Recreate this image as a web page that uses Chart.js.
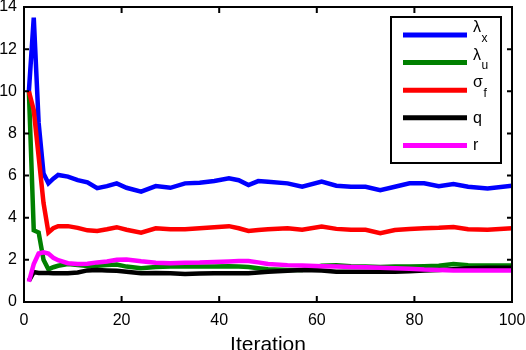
<!DOCTYPE html>
<html>
<head>
<meta charset="utf-8">
<script src="https://cdn.jsdelivr.net/npm/chart.js@4.4.1/dist/chart.umd.min.js"></script>
<style>
  html, body { margin: 0; padding: 0; background: #fff; }
  #wrap { width: 526px; height: 350px; }
</style>
</head>
<body>
<div id="wrap"><canvas id="chart" width="526" height="350"></canvas></div>
<script>
// iterations
const iterations = [1, 2, 3, 4, 5, 6, 7, 9, 11, 13, 15, 17, 19, 21, 24, 27, 30, 33, 36, 39,
  42, 44, 46, 48, 50, 54, 57, 61, 64, 67, 70, 73, 76, 79, 82, 85, 88, 91, 95, 100];

const lambdaX = [10.0, 13.5, 8.5, 6.1, 5.63, 5.85, 6.03, 5.95, 5.78, 5.68, 5.4, 5.5, 5.63, 5.42, 5.24, 5.5, 5.42, 5.63, 5.66, 5.74,
  5.87, 5.78, 5.55, 5.74, 5.71, 5.63, 5.47, 5.71, 5.52, 5.47, 5.47, 5.31, 5.47, 5.63, 5.63, 5.5, 5.6, 5.47, 5.39, 5.52];
const lambdaU = [10.0, 3.4, 3.3, 2.0, 1.55, 1.65, 1.72, 1.8, 1.76, 1.71, 1.72, 1.75, 1.78, 1.68, 1.6, 1.66, 1.68, 1.68, 1.68, 1.68,
  1.7, 1.68, 1.66, 1.6, 1.55, 1.52, 1.52, 1.72, 1.74, 1.7, 1.68, 1.66, 1.68, 1.68, 1.7, 1.72, 1.8, 1.75, 1.73, 1.73];
const sigmaF = [10.0, 9.1, 6.9, 4.7, 3.3, 3.5, 3.6, 3.6, 3.52, 3.4, 3.37, 3.45, 3.55, 3.43, 3.29, 3.5, 3.45, 3.45, 3.5, 3.55,
  3.6, 3.5, 3.37, 3.42, 3.45, 3.5, 3.43, 3.58, 3.47, 3.43, 3.43, 3.27, 3.42, 3.47, 3.5, 3.52, 3.56, 3.45, 3.43, 3.5];
const qVals = [1.0, 1.42, 1.38, 1.38, 1.38, 1.37, 1.36, 1.36, 1.4, 1.5, 1.52, 1.5, 1.48, 1.44, 1.36, 1.38, 1.36, 1.33, 1.35, 1.36,
  1.36, 1.36, 1.36, 1.4, 1.44, 1.48, 1.52, 1.5, 1.44, 1.44, 1.44, 1.44, 1.44, 1.46, 1.5, 1.52, 1.56, 1.6, 1.62, 1.63];
const rVals = [0.96, 1.8, 2.3, 2.36, 2.3, 2.1, 1.98, 1.84, 1.8, 1.82, 1.88, 1.92, 2.0, 2.02, 1.93, 1.86, 1.84, 1.86, 1.87, 1.9,
  1.92, 1.94, 1.95, 1.88, 1.8, 1.75, 1.73, 1.7, 1.68, 1.66, 1.65, 1.62, 1.6, 1.58, 1.54, 1.52, 1.5, 1.49, 1.49, 1.49];

const xTicks = [0, 20, 40, 60, 80, 100];
const yTicks = [0, 2, 4, 6, 8, 10, 12, 14];

const seriesValues = [lambdaX, lambdaU, sigmaF, qVals, rVals];
const seriesColors = ['#0000ff', '#008000', '#ff0000', '#000000', '#ff00ff'];
const legendSymbols = ['λ', 'λ', 'σ', 'q', 'r'];
const legendSubs = ['x', 'u', 'f', '', ''];

const FONT = '"Liberation Sans", Arial, Helvetica, sans-serif';

const toPoints = vals => vals.map((v, i) => ({ x: iterations[i], y: v }));

// frame + inward ticks on all four sides, matlab style
const boxAxes = {
  id: 'boxAxes',
  afterDatasetsDraw(chart) {
    const { ctx, chartArea: a, scales } = chart;
    ctx.save();
    ctx.strokeStyle = '#000';
    ctx.lineWidth = 2;
    ctx.strokeRect(a.left, a.top, a.right - a.left, a.bottom - a.top);
    ctx.beginPath();
    xTicks.forEach(t => {
      const px = scales.x.getPixelForValue(t);
      ctx.moveTo(px, a.bottom); ctx.lineTo(px, a.bottom - 6);
      ctx.moveTo(px, a.top); ctx.lineTo(px, a.top + 6);
    });
    yTicks.forEach(t => {
      const py = scales.y.getPixelForValue(t);
      ctx.moveTo(a.left, py); ctx.lineTo(a.left + 5, py);
      ctx.moveTo(a.right, py); ctx.lineTo(a.right - 5, py);
    });
    ctx.stroke();
    ctx.restore();
  }
};

// legend box with subscripts
const subLegend = {
  id: 'subLegend',
  afterDraw(chart) {
    const ctx = chart.ctx;
    const bx = 391, by = 17, bw = 110, bh = 146;
    ctx.save();
    ctx.fillStyle = '#fff';
    ctx.fillRect(bx, by, bw, bh);
    ctx.strokeStyle = '#000';
    ctx.lineWidth = 2;
    ctx.strokeRect(bx, by, bw, bh);
    chart.data.datasets.forEach((ds, i) => {
      const y = 35 + i * 27.6;
      ctx.strokeStyle = ds.borderColor;
      ctx.lineWidth = 5;
      ctx.beginPath();
      ctx.moveTo(403, y);
      ctx.lineTo(467, y);
      ctx.stroke();
      ctx.fillStyle = '#000';
      ctx.textAlign = 'left';
      ctx.textBaseline = 'alphabetic';
      ctx.font = '16px ' + FONT;
      const sym = legendSymbols[i];
      if (legendSubs[i]) {
        ctx.fillText(sym, 473, y - 3);
        const w = ctx.measureText(sym).width;
        ctx.font = '12px ' + FONT;
        ctx.fillText(legendSubs[i], 473 + w + 0.5, y + 6.5);
      } else {
        ctx.fillText(sym, 473, y + 5);
      }
    });
    ctx.restore();
  }
};

new Chart(document.getElementById('chart'), {
  type: 'line',
  data: {
    datasets: seriesValues.map((vals, i) => ({
      label: legendSymbols[i] + legendSubs[i],
      data: toPoints(vals),
      borderColor: seriesColors[i],
      backgroundColor: seriesColors[i],
      borderWidth: 4.5,
      pointRadius: 0,
      tension: 0,
      fill: false,
      order: seriesValues.length - i
    }))
  },
  options: {
    responsive: false,
    animation: false,
    layout: { padding: { top: 7, right: 14, left: 0, bottom: 0 } },
    plugins: { legend: { display: false }, tooltip: { enabled: false } },
    scales: {
      x: {
        type: 'linear',
        min: 0, max: 100,
        afterFit: s => { s.height = 48; s.paddingLeft = 0; s.paddingRight = 0; },
        afterBuildTicks: s => { s.ticks = xTicks.map(v => ({ value: v })); },
        grid: { display: false, drawTicks: false },
        border: { display: false },
        ticks: { color: '#000', padding: 9, maxRotation: 0, font: { family: FONT, size: 16 } },
        title: {
          display: true, text: 'Iteration', color: '#000',
          font: { family: FONT, size: 21, lineHeight: 1 },
          padding: { top: 0, bottom: -6 }
        }
      },
      y: {
        type: 'linear',
        min: 0, max: 14,
        afterFit: s => { s.width = 24; s.paddingTop = 0; s.paddingBottom = 0; },
        afterBuildTicks: s => { s.ticks = yTicks.map(v => ({ value: v })); },
        grid: { display: false, drawTicks: false },
        border: { display: false },
        ticks: { color: '#000', padding: 7, font: { family: FONT, size: 16 } }
      }
    }
  },
  plugins: [boxAxes, subLegend]
});
</script>
</body>
</html>
